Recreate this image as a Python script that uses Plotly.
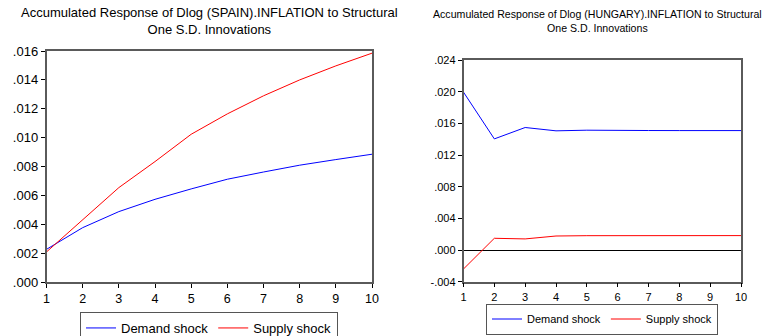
import plotly.graph_objects as go

# Horizons (periods after the shock)
periods = [1, 2, 3, 4, 5, 6, 7, 8, 9, 10]

# Accumulated responses of Dlog(SPAIN).INFLATION
spain_demand = [0.00228, 0.00378, 0.00489, 0.00574, 0.00646, 0.00713, 0.00763, 0.00810, 0.00849, 0.00886]
spain_supply = [0.00210, 0.00431, 0.00655, 0.00835, 0.01024, 0.01165, 0.01290, 0.01400, 0.01497, 0.01585]

# Accumulated responses of Dlog(HUNGARY).INFLATION
hungary_demand = [0.01997, 0.01406, 0.01550, 0.01508, 0.01516, 0.01511, 0.01512, 0.01511, 0.01511, 0.01511]
hungary_supply = [-0.00239, 0.00149, 0.00141, 0.00178, 0.00182, 0.00183, 0.00183, 0.00183, 0.00183, 0.00183]

spain_yticks = [0.000, 0.002, 0.004, 0.006, 0.008, 0.010, 0.012, 0.014, 0.016]
spain_ylabels = [".000", ".002", ".004", ".006", ".008", ".010", ".012", ".014", ".016"]
hungary_yticks = [-0.004, 0.000, 0.004, 0.008, 0.012, 0.016, 0.020, 0.024]
hungary_ylabels = ["-.004", ".000", ".004", ".008", ".012", ".016", ".020", ".024"]

title_spain = "Accumulated Response of Dlog (SPAIN).INFLATION to Structural<br>One S.D. Innovations"
title_hungary = "Accumulated Response of Dlog (HUNGARY).INFLATION to Structural<br>One S.D. Innovations"

W, H = 773, 336
FONT = "Liberation Sans, Arial, sans-serif"
BLUE = "#0000ff"
RED = "#ff0000"

fig = go.Figure()

fig.add_trace(go.Scatter(x=periods, y=spain_demand, mode="lines", name="Demand shock",
                         line=dict(color=BLUE, width=1), xaxis="x", yaxis="y", legend="legend"))
fig.add_trace(go.Scatter(x=periods, y=spain_supply, mode="lines", name="Supply shock",
                         line=dict(color=RED, width=1), xaxis="x", yaxis="y", legend="legend"))
fig.add_trace(go.Scatter(x=periods, y=hungary_demand, mode="lines", name="Demand shock",
                         line=dict(color=BLUE, width=1), xaxis="x2", yaxis="y2", legend="legend2"))
fig.add_trace(go.Scatter(x=periods, y=hungary_supply, mode="lines", name="Supply shock",
                         line=dict(color=RED, width=1), xaxis="x2", yaxis="y2", legend="legend2"))


def px_x(p):
    return p / W


def px_y(p):
    return (H - p) / H


def axis_style(size):
    return dict(showline=True, mirror=True, linecolor="#5a5a5a", linewidth=1.5,
                ticks="outside", ticklen=4, tickcolor="#000", tickwidth=1,
                showgrid=False, tickfont=dict(family=FONT, size=size, color="#000"))


fig.update_layout(
    width=W, height=H,
    margin=dict(l=0, r=0, t=0, b=0, autoexpand=False),
    paper_bgcolor="white", plot_bgcolor="white",
    font=dict(family=FONT, size=11, color="#000"),
    xaxis=dict(domain=[px_x(46.5), px_x(372)], range=[1, 10], tickvals=periods,
               anchor="y", zeroline=False, **axis_style(12.5)),
    yaxis=dict(domain=[px_y(282.3), px_y(51)], range=[0, 0.016], tickvals=spain_yticks,
               ticktext=spain_ylabels, anchor="x", zeroline=False, **axis_style(13)),
    xaxis2=dict(domain=[px_x(463.5), px_x(741)], range=[1, 10], tickvals=periods,
                anchor="y2", zeroline=False, **axis_style(11)),
    yaxis2=dict(domain=[px_y(281.7), px_y(60.3)], range=[-0.004, 0.024], tickvals=hungary_yticks,
                ticktext=hungary_ylabels, anchor="x2", zeroline=True, zerolinecolor="#000",
                zerolinewidth=1, **axis_style(11)),
    legend=dict(orientation="h", x=px_x(209), xanchor="center", y=px_y(312), yanchor="top",
                bordercolor="#555", borderwidth=1, bgcolor="white",
                font=dict(family=FONT, size=13), itemwidth=30, tracegroupgap=0),
    legend2=dict(orientation="h", x=px_x(602), xanchor="center", y=px_y(334.5), yanchor="bottom",
                 bordercolor="#555", borderwidth=1, bgcolor="white",
                 font=dict(family=FONT, size=11), itemwidth=30, tracegroupgap=0),
    annotations=[
        dict(text=title_spain, x=px_x(209), y=px_y(3), xref="paper", yref="paper",
             xanchor="center", yanchor="top", showarrow=False, align="center",
             font=dict(family=FONT, size=13, color="#000")),
        dict(text=title_hungary, x=px_x(597), y=px_y(6), xref="paper", yref="paper",
             xanchor="center", yanchor="top", showarrow=False, align="center",
             font=dict(family=FONT, size=10.6, color="#000")),
    ],
)

fig.write_html("out.html")
